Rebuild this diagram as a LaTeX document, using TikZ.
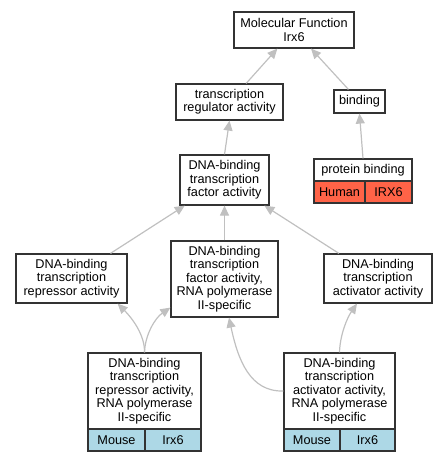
\documentclass[tikz,border=0pt]{standalone}
\usepackage{fontspec}
\setmainfont{Liberation Sans}
\usetikzlibrary{arrows.meta,calc}
\definecolor{edgegray}{HTML}{C0C0C0}
\definecolor{boxline}{HTML}{333333}
\definecolor{mouseblue}{HTML}{ADD8E6}
\definecolor{humanred}{HTML}{FF6347}
\begin{document}
\begin{tikzpicture}[x=1pt,y=-1pt,
  term/.style={draw=boxline, line width=1.2pt, fill=white, inner sep=0pt, align=center,
    font=\fontsize{12.7}{13.4}\selectfont},
  cell/.style={term, fill=mouseblue},
  hcell/.style={term, fill=humanred},
  edge/.style={draw=edgegray, line width=1.2pt, -{Triangle[length=10pt,width=9pt]}, color=edgegray}
]
\path[use as bounding box] (0,0) rectangle (447,461);

% nodes
\node[term, minimum width=120pt, minimum height=36pt] (mf) at (294,30) {Molecular Function\\Irx6};
\node[term, minimum width=107pt, minimum height=36pt] (tra) at (229.5,102) {transcription\\regulator activity};
\node[term, minimum width=51pt, minimum height=23pt] (bind) at (359.5,101.5) {binding};
\node[term, minimum width=98pt, minimum height=22pt] (pb) at (363,170) {protein binding};
\node[hcell, minimum width=51pt, minimum height=22pt] (pbh) at (339.5,192) {Human};
\node[hcell, minimum width=47pt, minimum height=22pt] (pbi) at (388.5,192) {IRX6};
\node[term, minimum width=89pt, minimum height=50pt] (tfa) at (224.5,180) {DNA-binding\\transcription\\factor activity};
\node[term, minimum width=111pt, minimum height=49pt] (rep) at (71.5,278.5) {DNA-binding\\transcription\\repressor activity};
\node[term, minimum width=107pt, minimum height=76pt] (pol) at (224.5,279) {DNA-binding\\transcription\\factor activity,\\RNA polymerase\\II-specific};
\node[term, minimum width=108pt, minimum height=49pt] (act) at (378,278.5) {DNA-binding\\transcription\\activator activity};
\node[term, minimum width=113pt, minimum height=76pt] (reppol) at (144.5,391) {DNA-binding\\transcription\\repressor activity,\\RNA polymerase\\II-specific};
\node[cell, minimum width=57pt, minimum height=22pt] (reppolm) at (116.5,440) {Mouse};
\node[cell, minimum width=56pt, minimum height=22pt] (reppoli) at (173,440) {Irx6};
\node[term, minimum width=111pt, minimum height=76pt] (actpol) at (339.5,391) {DNA-binding\\transcription\\activator activity,\\RNA polymerase\\II-specific};
\node[cell, minimum width=56pt, minimum height=22pt] (actpolm) at (312,440) {Mouse};
\node[cell, minimum width=55pt, minimum height=22pt] (actpoli) at (367.5,440) {Irx6};

% edges
\draw[edge] (tra) -- (mf);
\draw[edge] (bind) -- (mf);
\draw[edge] (tfa.north) -- (tra.south);
\draw[edge] (pb.north) -- (bind.south);
\draw[edge] (rep) -- (tfa);
\draw[edge] (pol.north) -- (tfa.south);
\draw[edge] (act) -- (tfa);
\draw[edge] (reppol.north) .. controls (145,335) and (132,318) .. ($(rep.south east)+(-10,0)$);
\draw[edge] (reppol.north) .. controls (145,335) and (155,318) .. ($(pol.south west)+(0,-10)$);
\draw[edge] (actpol.west) .. controls (250,392) and (238,360) .. ($(pol.south)+(4.5,0)$);
\draw[edge] (actpol.north) .. controls (340,335) and (347,318) .. ($(act.south)+(-21,0)$);
\end{tikzpicture}
\end{document}
